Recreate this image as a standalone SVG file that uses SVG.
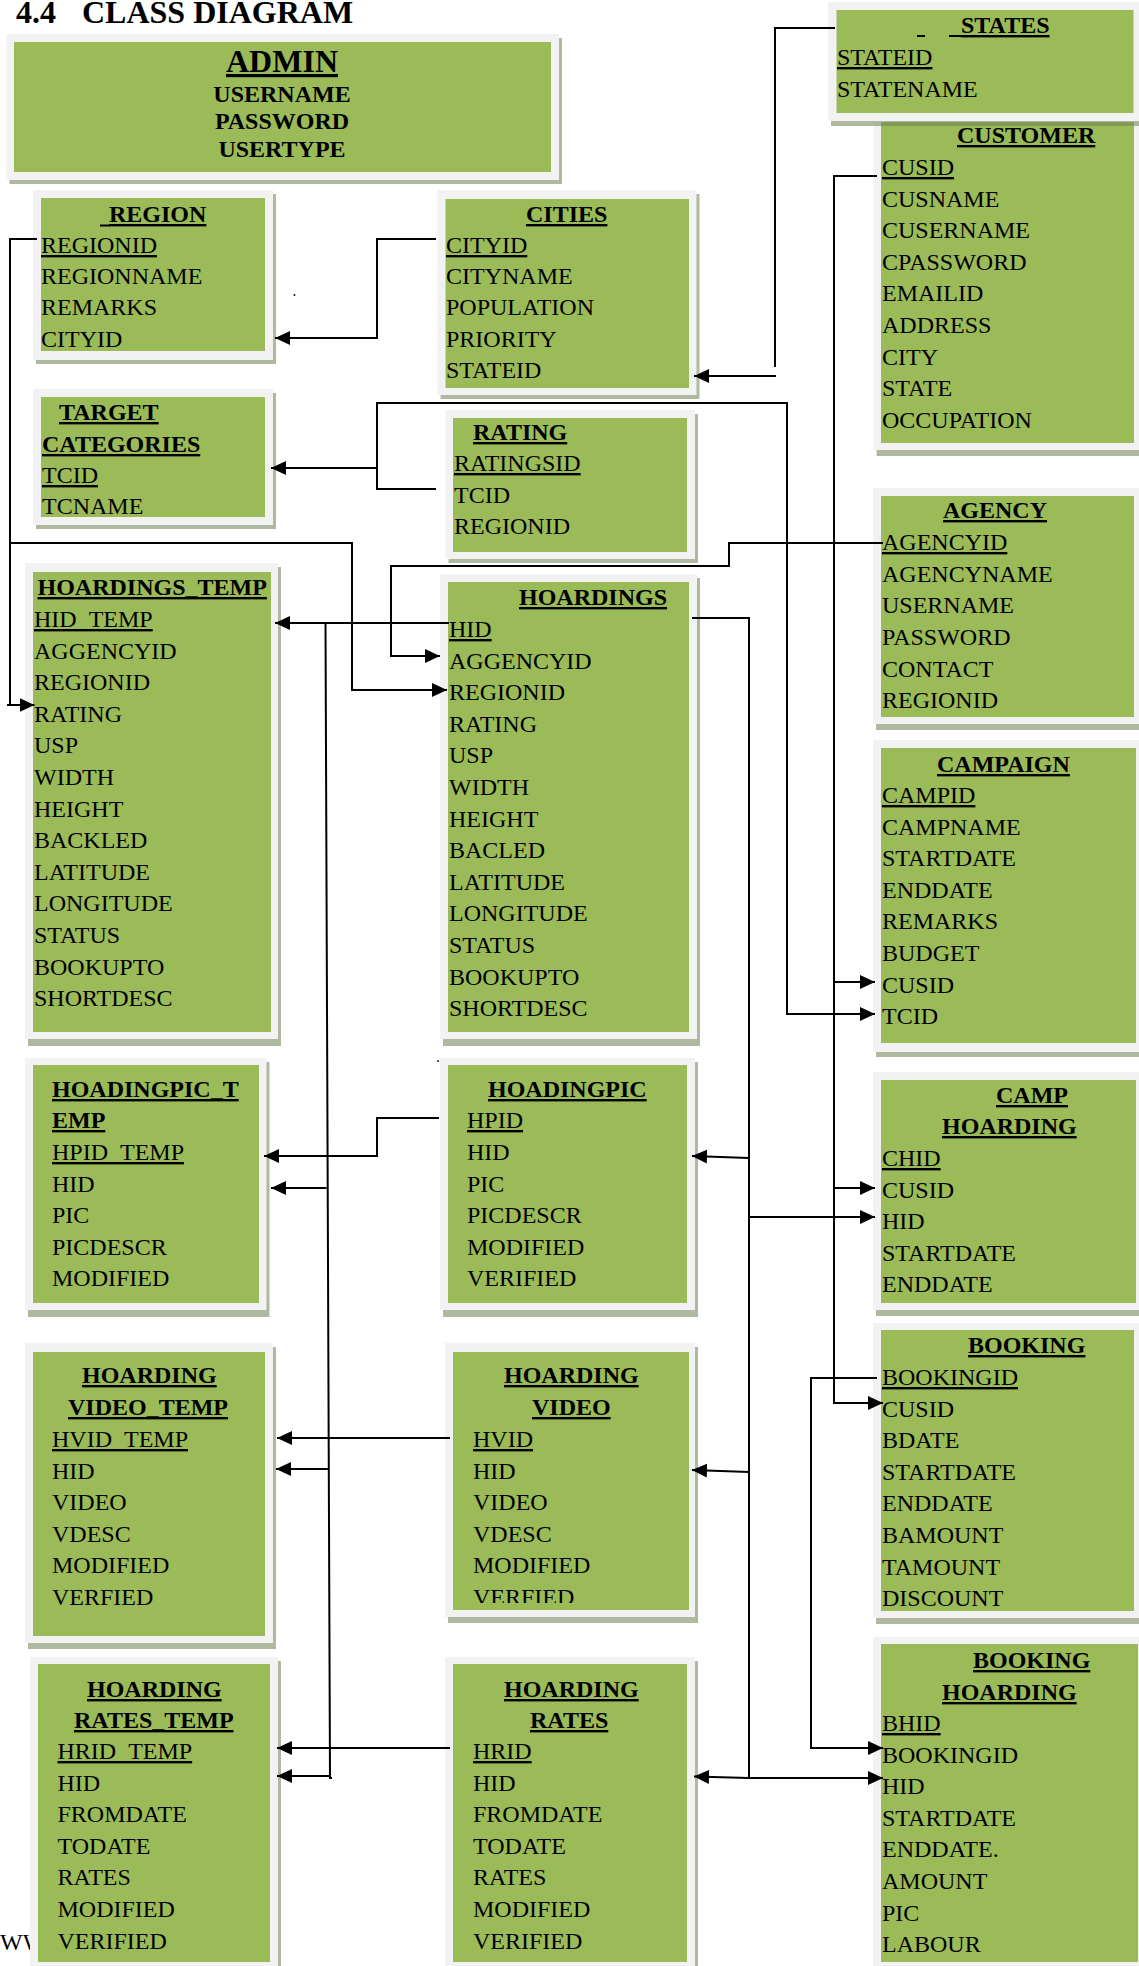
<svg xmlns="http://www.w3.org/2000/svg" width="1139" height="1966" viewBox="0 0 1139 1966">
<style>
.f{fill:#f2f2f2}
.g{fill:#9bbb59}
.s{fill:rgb(110,128,80);fill-opacity:0.55}
text{font-family:"Liberation Serif","Times New Roman",serif;font-size:24px;fill:#000}
.b{font-weight:bold}
.u{text-decoration:underline}
.c{stroke:#000;stroke-width:2;fill:none}
.ul{stroke:#000;stroke-width:2}
</style>
<defs>
<marker id="ah" markerUnits="userSpaceOnUse" markerWidth="16" markerHeight="14" refX="15" refY="7" orient="auto" viewBox="0 0 16 14"><path d="M0,0 L15,7 L0,14 z" fill="#000"/></marker>
<clipPath id="vclip"><rect x="440" y="1340" width="260" height="263"/></clipPath>
</defs>
<rect width="1139" height="1966" fill="#fff"/>
<text x="0" y="1950">WW</text>
<text class="b" x="16" y="23" style="font-size:32px">4.4</text>
<text class="b" x="82" y="23" style="font-size:32px">CLASS DIAGRAM</text>
<circle cx="294.5" cy="295" r="0.9" fill="#000"/>
<circle cx="438" cy="1061" r="0.9" fill="#000"/>

<g id="admin">
<rect class="s" x="9.5" y="38" width="552.5" height="146"/>
<rect class="f" x="6.5" y="34" width="552.5" height="146"/>
<rect class="g" x="14" y="42" width="537" height="130"/>
<text class="b u" x="282" y="72" text-anchor="middle" style="font-size:32px">ADMIN</text>
<text class="b" x="282" y="102" text-anchor="middle">USERNAME</text>
<text class="b" x="282" y="129" text-anchor="middle">PASSWORD</text>
<text class="b" x="282" y="157" text-anchor="middle">USERTYPE</text>
</g>

<g id="region">
<rect class="s" x="36" y="194" width="240" height="170"/>
<rect class="f" x="33" y="190" width="240" height="170"/>
<rect class="g" x="41" y="198" width="224" height="153"/>
<line class="ul" x1="100" y1="225.5" x2="110" y2="225.5"/>
<text class="b u" x="109" y="222">REGION</text>
<text x="41"><tspan class="u" x="41" y="253">REGIONID</tspan><tspan x="41" y="284">REGIONNAME</tspan><tspan x="41" y="315">REMARKS</tspan><tspan x="41" y="347">CITYID</tspan></text>
</g>

<g id="cities">
<rect class="s" x="440.5" y="194" width="259" height="205"/>
<rect class="f" x="437.5" y="190" width="259" height="205"/>
<rect class="g" x="445.5" y="199" width="243.5" height="189"/>
<text class="b u" x="526" y="222">CITIES</text>
<text><tspan class="u" x="446" y="253">CITYID</tspan><tspan x="446" y="284">CITYNAME</tspan><tspan x="446" y="315">POPULATION</tspan><tspan x="446" y="347">PRIORITY</tspan><tspan x="446" y="378">STATEID</tspan></text>
</g>

<g id="customer">
<rect class="s" x="876.6" y="126" width="270" height="330"/>
<rect class="f" x="873.6" y="122" width="270" height="328"/>
<rect class="g" x="881" y="122" width="253" height="321"/>
<text class="b u" x="957" y="143">CUSTOMER</text>
<text><tspan class="u" x="882" y="175">CUSID</tspan><tspan x="882" y="206.6">CUSNAME</tspan><tspan x="882" y="238.2">CUSERNAME</tspan><tspan x="882" y="269.8">CPASSWORD</tspan><tspan x="882" y="301.4">EMAILID</tspan><tspan x="882" y="333">ADDRESS</tspan><tspan x="882" y="364.6">CITY</tspan><tspan x="882" y="396.2">STATE</tspan><tspan x="882" y="427.8">OCCUPATION</tspan></text>
</g>

<g id="states">
<rect class="s" x="831" y="6" width="312" height="120"/>
<rect class="f" x="828" y="2" width="312" height="119"/>
<rect class="g" x="836.5" y="10" width="297" height="103"/>
<line class="ul" x1="917" y1="36" x2="925" y2="36"/>
<line class="ul" x1="949" y1="36" x2="962" y2="36"/>
<text class="b u" x="961" y="33">STATES</text>
<text><tspan class="u" x="837" y="65">STATEID</tspan><tspan x="837" y="97">STATENAME</tspan></text>
</g>

<g id="target-categories">
<rect class="s" x="36" y="393" width="240" height="136"/>
<rect class="f" x="33" y="389" width="240" height="136"/>
<rect class="g" x="41" y="397" width="224" height="120"/>
<text class="b u" x="59" y="420">TARGET</text>
<text class="b u" x="42" y="452">CATEGORIES</text>
<text><tspan class="u" x="42" y="483">TCID</tspan><tspan x="42" y="514">TCNAME</tspan></text>
</g>

<g id="rating">
<rect class="s" x="448.5" y="414" width="249.5" height="149"/>
<rect class="f" x="445.5" y="410" width="249.5" height="149"/>
<rect class="g" x="453" y="418" width="234" height="134"/>
<text class="b u" x="473" y="440">RATING</text>
<text><tspan class="u" x="454" y="471">RATINGSID</tspan><tspan x="454" y="503">TCID</tspan><tspan x="454" y="534">REGIONID</tspan></text>
</g>

<g id="agency">
<rect class="s" x="876" y="492" width="270" height="238"/>
<rect class="f" x="873" y="488" width="270" height="236"/>
<rect class="g" x="881" y="496" width="253" height="221"/>
<text class="b u" x="943" y="518">AGENCY</text>
<text><tspan class="u" x="882" y="550">AGENCYID</tspan><tspan x="882" y="582">AGENCYNAME</tspan><tspan x="882" y="613">USERNAME</tspan><tspan x="882" y="645">PASSWORD</tspan><tspan x="882" y="677">CONTACT</tspan><tspan x="882" y="708">REGIONID</tspan></text>
</g>

<g id="hoardings-temp">
<rect class="s" x="28" y="567" width="253" height="479"/>
<rect class="f" x="25" y="563" width="253" height="476"/>
<rect class="g" x="33" y="572" width="238" height="460"/>
<text class="b u" x="37.5" y="595">HOARDINGS_TEMP</text>
<text><tspan class="u" x="34" y="627">HID_TEMP</tspan><tspan x="34" y="658.6">AGGENCYID</tspan><tspan x="34" y="690.2">REGIONID</tspan><tspan x="34" y="721.8">RATING</tspan><tspan x="34" y="753.4">USP</tspan><tspan x="34" y="785">WIDTH</tspan><tspan x="34" y="816.6">HEIGHT</tspan><tspan x="34" y="848.2">BACKLED</tspan><tspan x="34" y="879.8">LATITUDE</tspan><tspan x="34" y="911.4">LONGITUDE</tspan><tspan x="34" y="943">STATUS</tspan><tspan x="34" y="974.6">BOOKUPTO</tspan><tspan x="34" y="1006.2">SHORTDESC</tspan></text>
</g>

<g id="hoardings">
<rect class="s" x="443" y="578" width="257" height="468"/>
<rect class="f" x="440" y="574" width="257" height="465"/>
<rect class="g" x="448" y="582" width="241" height="450"/>
<text class="b u" x="519" y="605">HOARDINGS</text>
<text><tspan class="u" x="449" y="637">HID</tspan><tspan x="449" y="668.6">AGGENCYID</tspan><tspan x="449" y="700.2">REGIONID</tspan><tspan x="449" y="731.8">RATING</tspan><tspan x="449" y="763.4">USP</tspan><tspan x="449" y="795">WIDTH</tspan><tspan x="449" y="826.6">HEIGHT</tspan><tspan x="449" y="858.2">BACLED</tspan><tspan x="449" y="889.8">LATITUDE</tspan><tspan x="449" y="921.4">LONGITUDE</tspan><tspan x="449" y="953">STATUS</tspan><tspan x="449" y="984.6">BOOKUPTO</tspan><tspan x="449" y="1016.2">SHORTDESC</tspan></text>
</g>

<g id="campaign">
<rect class="s" x="876" y="744" width="270" height="313"/>
<rect class="f" x="873" y="740" width="270" height="312"/>
<rect class="g" x="881" y="748" width="255" height="295"/>
<text class="b u" x="937" y="772">CAMPAIGN</text>
<text><tspan class="u" x="882" y="803">CAMPID</tspan><tspan x="882" y="834.6">CAMPNAME</tspan><tspan x="882" y="866.2">STARTDATE</tspan><tspan x="882" y="897.8">ENDDATE</tspan><tspan x="882" y="929.4">REMARKS</tspan><tspan x="882" y="961">BUDGET</tspan><tspan x="882" y="992.6">CUSID</tspan><tspan x="882" y="1024.2">TCID</tspan></text>
</g>

<g id="camp-hoarding">
<rect class="s" x="876" y="1076" width="270" height="240"/>
<rect class="f" x="873" y="1072" width="270" height="238"/>
<rect class="g" x="881" y="1080" width="255" height="223"/>
<text class="b u" x="996" y="1103">CAMP</text>
<text class="b u" x="942" y="1134">HOARDING</text>
<text><tspan class="u" x="882" y="1166">CHID</tspan><tspan x="882" y="1197.6">CUSID</tspan><tspan x="882" y="1229.2">HID</tspan><tspan x="882" y="1260.8">STARTDATE</tspan><tspan x="882" y="1292.4">ENDDATE</tspan></text>
</g>

<g id="booking">
<rect class="s" x="876" y="1327" width="270" height="297"/>
<rect class="f" x="873" y="1323" width="270" height="295"/>
<rect class="g" x="881" y="1330" width="253" height="281"/>
<text class="b u" x="968" y="1353">BOOKING</text>
<text><tspan class="u" x="882" y="1385">BOOKINGID</tspan><tspan x="882" y="1416.6">CUSID</tspan><tspan x="882" y="1448.2">BDATE</tspan><tspan x="882" y="1479.8">STARTDATE</tspan><tspan x="882" y="1511.4">ENDDATE</tspan><tspan x="882" y="1543">BAMOUNT</tspan><tspan x="882" y="1574.6">TAMOUNT</tspan><tspan x="882" y="1606.2">DISCOUNT</tspan></text>
</g>

<g id="booking-hoarding">
<rect class="s" x="876" y="1641" width="270" height="340"/>
<rect class="f" x="873" y="1637" width="270" height="340"/>
<rect class="g" x="881" y="1644" width="257" height="318"/>
<text class="b u" x="973" y="1668">BOOKING</text>
<text class="b u" x="942" y="1700">HOARDING</text>
<text><tspan class="u" x="882" y="1731">BHID</tspan><tspan x="882" y="1762.6">BOOKINGID</tspan><tspan x="882" y="1794.2">HID</tspan><tspan x="882" y="1825.8">STARTDATE</tspan><tspan x="882" y="1857.4">ENDDATE.</tspan><tspan x="882" y="1889">AMOUNT</tspan><tspan x="882" y="1920.6">PIC</tspan><tspan x="882" y="1952.2">LABOUR</tspan></text>
</g>

<g id="hoadingpic-temp">
<rect class="s" x="28" y="1062" width="241.5" height="255"/>
<rect class="f" x="25" y="1058" width="241.5" height="252"/>
<rect class="g" x="33" y="1065" width="226" height="238"/>
<text class="b u" x="52" y="1097">HOADINGPIC_T</text>
<text class="b u" x="52" y="1128">EMP</text>
<text><tspan class="u" x="52" y="1160">HPID_TEMP</tspan><tspan x="52" y="1191.6">HID</tspan><tspan x="52" y="1223.2">PIC</tspan><tspan x="52" y="1254.8">PICDESCR</tspan><tspan x="52" y="1286.4">MODIFIED</tspan></text>
</g>

<g id="hoadingpic">
<rect class="s" x="443" y="1062" width="255" height="255"/>
<rect class="f" x="440" y="1058" width="255" height="252"/>
<rect class="g" x="448" y="1065" width="239" height="238"/>
<text class="b u" x="488" y="1097">HOADINGPIC</text>
<text><tspan class="u" x="467" y="1128">HPID</tspan><tspan x="467" y="1160">HID</tspan><tspan x="467" y="1191.6">PIC</tspan><tspan x="467" y="1223.2">PICDESCR</tspan><tspan x="467" y="1254.8">MODIFIED</tspan><tspan x="467" y="1286.4">VERIFIED</tspan></text>
</g>

<g id="hoarding-video-temp">
<rect class="s" x="28" y="1347" width="248" height="302"/>
<rect class="f" x="25" y="1343" width="248" height="300"/>
<rect class="g" x="33" y="1352" width="232" height="284"/>
<text class="b u" x="82" y="1383">HOARDING</text>
<text class="b u" x="68" y="1415">VIDEO_TEMP</text>
<text><tspan class="u" x="52" y="1447">HVID_TEMP</tspan><tspan x="52" y="1478.6">HID</tspan><tspan x="52" y="1510.2">VIDEO</tspan><tspan x="52" y="1541.8">VDESC</tspan><tspan x="52" y="1573.4">MODIFIED</tspan><tspan x="52" y="1605">VERFIED</tspan></text>
</g>

<g id="hoarding-video">
<rect class="s" x="448" y="1347" width="250" height="276"/>
<rect class="f" x="445" y="1343" width="250" height="274"/>
<rect class="g" x="453" y="1352" width="236" height="258"/>
<text class="b u" x="504" y="1383">HOARDING</text>
<text class="b u" x="532" y="1415">VIDEO</text>
<text clip-path="url(#vclip)"><tspan class="u" x="473" y="1447">HVID</tspan><tspan x="473" y="1478.6">HID</tspan><tspan x="473" y="1510.2">VIDEO</tspan><tspan x="473" y="1541.8">VDESC</tspan><tspan x="473" y="1573.4">MODIFIED</tspan><tspan x="473" y="1605">VERFIED</tspan></text>
</g>

<g id="hoarding-rates-temp">
<rect class="s" x="33" y="1661" width="248" height="320"/>
<rect class="f" x="30" y="1657" width="248" height="320"/>
<rect class="g" x="38" y="1664" width="232" height="298"/>
<text class="b u" x="87" y="1697">HOARDING</text>
<text class="b u" x="74" y="1728">RATES_TEMP</text>
<text><tspan class="u" x="57.5" y="1759">HRID_TEMP</tspan><tspan x="57.5" y="1790.6">HID</tspan><tspan x="57.5" y="1822.2">FROMDATE</tspan><tspan x="57.5" y="1853.8">TODATE</tspan><tspan x="57.5" y="1885.4">RATES</tspan><tspan x="57.5" y="1917">MODIFIED</tspan><tspan x="57.5" y="1948.6">VERIFIED</tspan></text>
</g>

<g id="hoarding-rates">
<rect class="s" x="448" y="1661" width="250" height="320"/>
<rect class="f" x="445" y="1657" width="250" height="320"/>
<rect class="g" x="453" y="1664" width="234" height="298"/>
<text class="b u" x="504" y="1697">HOARDING</text>
<text class="b u" x="530" y="1728">RATES</text>
<text><tspan class="u" x="473" y="1759">HRID</tspan><tspan x="473" y="1790.6">HID</tspan><tspan x="473" y="1822.2">FROMDATE</tspan><tspan x="473" y="1853.8">TODATE</tspan><tspan x="473" y="1885.4">RATES</tspan><tspan x="473" y="1917">MODIFIED</tspan><tspan x="473" y="1948.6">VERIFIED</tspan></text>
</g>

<g id="connectors">
<path class="c" d="M835,28 H775 V367"/>
<path class="c" d="M776,376 H694" marker-end="url(#ah)"/>
<path class="c" d="M436,239 H377 V338 H275" marker-end="url(#ah)"/>
<path class="c" d="M37,239 H10 V705"/>
<path class="c" d="M7,705 H34.5" marker-end="url(#ah)"/>
<path class="c" d="M10,543 H352 V690 H447" marker-end="url(#ah)"/>
<path class="c" d="M436,489 H377 V403 H787 V1014 H875" marker-end="url(#ah)"/>
<path class="c" d="M377,468 H271" marker-end="url(#ah)"/>
<path class="c" d="M883,543 H729 V566 H391 V656 H440" marker-end="url(#ah)"/>
<path class="c" d="M877,176 H834 V1403 H883" marker-end="url(#ah)"/>
<path class="c" d="M834,982 H875" marker-end="url(#ah)"/>
<path class="c" d="M834,1188 H875" marker-end="url(#ah)"/>
<path class="c" d="M449,623 H275" marker-end="url(#ah)"/>
<path class="c" d="M325.5,623 L330,1778 H332"/>
<path class="c" d="M326.5,1188 H271" marker-end="url(#ah)"/>
<path class="c" d="M329,1469 H276" marker-end="url(#ah)"/>
<path class="c" d="M330,1776 H277" marker-end="url(#ah)"/>
<path class="c" d="M692,618 H749 V1778"/>
<path class="c" d="M749,1158 L692,1156" marker-end="url(#ah)"/>
<path class="c" d="M749,1217 H875" marker-end="url(#ah)"/>
<path class="c" d="M749,1472 L692,1470" marker-end="url(#ah)"/>
<path class="c" d="M749,1778 L694,1776.5" marker-end="url(#ah)"/>
<path class="c" d="M749,1778 H883" marker-end="url(#ah)"/>
<path class="c" d="M439,1118 H377 V1156 H264" marker-end="url(#ah)"/>
<path class="c" d="M450,1438 H277" marker-end="url(#ah)"/>
<path class="c" d="M450,1748 H277" marker-end="url(#ah)"/>
<path class="c" d="M877,1378 H811 V1748 H883" marker-end="url(#ah)"/>
</g>
</svg>
